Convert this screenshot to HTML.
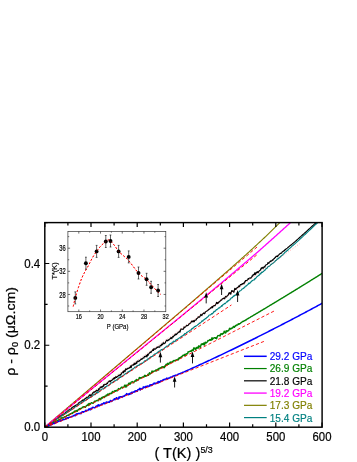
<!DOCTYPE html>
<html><head><meta charset="utf-8"><title>chart</title>
<style>html,body{margin:0;padding:0;background:#fff;}body{width:357px;height:462px;overflow:hidden;position:relative;font-family:"Liberation Sans",sans-serif;}</style></head>
<body>
<svg width="357" height="462" viewBox="0 0 357 462" style="position:absolute;left:0;top:0;will-change:transform;font-family:'Liberation Sans',sans-serif">
<rect width="357" height="462" fill="#fff"/>
<defs><clipPath id="cp"><rect x="44.80" y="222.60" width="277.20" height="204.40"/></clipPath></defs>
<g clip-path="url(#cp)" fill="none" stroke-linejoin="round">
<path d="M44.80 427.00 L45.31 426.64 L45.82 426.29 L46.32 425.93 L46.83 425.58 L47.34 425.22 L47.85 424.79 L48.36 424.58 L48.87 424.24 L49.37 423.71 L49.88 423.35 L50.39 423.01 L50.90 422.61 L51.41 422.29 L51.91 422.45 L52.42 421.85 L52.93 421.36 L53.44 421.09 L53.95 420.50 L54.46 419.90 L54.96 419.61 L55.47 419.73 L55.98 419.24 L56.49 418.76 L57.00 418.71 L57.51 417.86 L58.01 417.77 L58.52 417.79 L59.03 416.73 L59.54 416.89 L60.05 416.63 L60.55 416.02 L61.06 415.50 L61.57 415.03 L62.08 414.74 L62.59 414.87 L63.10 414.31 L63.60 414.20 L64.11 413.70 L64.62 413.69 L65.13 412.78 L65.64 412.19 L66.14 412.94 L66.65 411.98 L67.16 411.15 L67.67 410.94 L68.18 410.48 L68.69 409.96 L69.19 409.64 L69.70 409.19 L70.21 409.00 L70.72 409.21 L71.23 409.15 L71.73 407.82 L72.24 407.34 L72.75 407.53 L73.26 406.84 L73.77 406.30 L74.28 406.58 L74.78 405.95 L75.29 405.35 L75.80 405.38 L76.31 405.06 L76.82 404.76 L77.32 404.56 L77.83 404.23 L78.34 403.25 L78.85 402.71 L79.36 402.66 L79.87 402.15 L80.37 401.96 L80.88 401.68 L81.39 401.04 L81.90 400.64 L82.41 400.73 L82.91 399.85 L83.42 399.79 L83.93 400.57 L84.44 399.15 L84.95 398.76 L85.46 398.27 L85.96 398.42 L86.47 397.41 L86.98 397.43 L87.49 397.12 L88.00 397.27 L88.51 397.03 L89.01 395.63 L89.52 394.90 L90.03 395.66 L90.54 394.80 L91.05 395.93 L91.55 394.86 L92.06 394.51 L92.57 392.83 L93.08 393.05 L93.59 392.65 L94.10 391.62 L94.60 392.13 L95.11 391.97 L95.62 391.21 L96.13 390.45 L96.64 390.20 L97.14 391.27 L97.65 390.51 L98.16 390.57 L98.67 388.78 L99.18 389.22 L99.69 389.08 L100.19 387.13 L100.70 386.97 L101.21 387.49 L101.72 386.52 L102.23 387.26 L102.73 386.22 L103.24 386.49 L103.75 384.62 L104.26 385.14 L104.77 384.32 L105.28 384.51 L105.78 384.22 L106.29 384.32 L106.80 383.44 L107.31 383.73 L107.82 382.49 L108.32 381.80 L108.83 381.60 L109.34 380.72 L109.85 380.93 L110.36 381.94 L110.87 380.51 L111.37 380.77 L111.88 380.29 L112.39 379.76 L112.90 379.19 L113.41 378.26 L113.92 379.27 L114.42 377.67 L114.93 378.46 L115.44 377.08 L115.95 376.71 L116.46 377.47 L116.96 377.01 L117.47 376.42 L117.98 376.29 L118.49 375.71 L119.00 375.12 L119.51 374.96 L120.01 375.80 L120.52 374.25 L121.03 374.46 L121.54 373.69 L122.05 372.47 L122.55 372.27 L123.06 371.58 L123.57 372.82 L124.08 370.49 L124.59 371.28 L125.10 371.45 L125.60 368.76 L126.11 369.61 L126.62 369.49 L127.13 368.58 L127.64 368.99 L128.14 368.09 L128.65 368.34 L129.16 368.21 L129.67 367.43 L130.18 367.74 L130.69 365.88 L131.19 367.70 L131.70 365.60 L132.21 365.16 L132.72 364.89 L133.23 364.57 L133.73 365.12 L134.24 363.14 L134.75 364.44 L135.26 363.52 L135.77 363.87 L136.28 362.07 L136.78 363.32 L137.29 361.41 L137.80 361.00 L138.31 361.20 L138.82 361.72 L139.33 360.55 L139.83 360.60 L140.34 359.82 L140.85 359.45 L141.36 358.81 L141.87 359.36 L142.37 358.60 L142.88 358.13 L143.39 357.73 L143.90 358.18 L144.41 356.42 L144.92 356.73 L145.42 356.78 L145.93 356.10 L146.44 355.39 L146.95 357.00 L147.46 354.25 L147.96 355.50 L148.47 354.05 L148.98 353.73 L149.49 352.84 L150.00 352.60 L150.51 351.84 L151.01 352.62 L151.52 351.35 L152.03 350.88 L152.54 350.55 L153.05 349.32 L153.55 350.39 L154.06 348.47 L154.57 349.18 L155.08 349.19 L155.59 348.93 L156.10 347.95 L156.60 348.12 L157.11 347.38 L157.62 347.34 L158.13 346.69 L158.64 347.22 L159.14 347.29 L159.65 347.26 L160.16 345.46 L160.67 345.32 L161.18 345.76 L161.69 344.04 L162.19 344.41 L162.70 344.71 L163.21 342.71 L163.72 343.22 L164.23 343.70 L164.74 343.16 L165.24 342.97 L165.75 341.56 L166.26 340.80 L166.77 339.98 L167.28 340.80 L167.78 340.87 L168.29 339.83 L168.80 340.26 L169.31 339.15 L169.82 338.90 L170.33 338.75 L170.83 337.62 L171.34 337.86 L171.85 338.69 L172.36 336.86 L172.87 336.53 L173.37 336.94 L173.88 335.93 L174.39 334.92 L174.90 335.39 L175.41 334.58 L175.92 333.90 L176.42 334.59 L176.93 333.89 L177.44 333.27 L177.95 332.76 L178.46 332.55 L178.96 331.82 L179.47 331.16 L179.98 332.20 L180.49 330.54 L181.00 328.94 L181.51 329.18 L182.01 328.95 L182.52 329.21 L183.03 329.37 L183.54 328.87 L184.05 326.77 L184.56 327.69 L185.06 327.20 L185.57 326.86 L186.08 326.16 L186.59 325.31 L187.10 325.70 L187.60 325.62 L188.11 325.27 L188.62 324.79 L189.13 323.91 L189.64 323.80 L190.15 323.12 L190.65 323.04 L191.16 322.01 L191.67 321.11 L192.18 321.61 L192.69 321.80 L193.19 320.57 L193.70 321.63 L194.21 321.68 L194.72 320.42 L195.23 319.98 L195.74 320.06 L196.24 319.88 L196.75 318.50 L197.26 318.37 L197.77 317.90 L198.28 316.74 L198.78 317.18 L199.29 317.21 L199.80 316.73 L200.31 315.75 L200.82 314.37 L201.33 315.29 L201.83 315.61 L202.34 314.25 L202.85 313.76 L203.36 313.47 L203.87 312.86 L204.37 313.67 L204.88 313.28 L205.39 312.03 L205.90 311.63 L206.41 311.26 L206.92 311.04 L207.42 310.81 L207.93 310.59 L208.44 309.47 L208.95 309.25 L209.46 309.26 L209.97 308.69 L210.47 307.89 L210.98 308.07 L211.49 307.41 L212.00 306.48 L212.51 307.76 L213.01 306.37 L213.52 305.69 L214.03 305.87 L214.54 305.46 L215.05 305.70 L215.56 304.48 L216.06 303.75 L216.57 302.34 L217.08 303.72 L217.59 302.56 L218.10 303.31 L218.60 302.04 L219.11 302.07 L219.62 301.30 L220.13 301.17 L220.64 300.13 L221.15 300.33 L221.65 300.10 L222.16 298.91 L222.67 299.03 L223.18 298.42 L223.69 298.38 L224.19 297.83 L224.70 298.87 L225.21 297.11 L225.72 296.38 L226.23 296.82 L226.74 296.87 L227.24 295.68 L227.75 295.22 L228.26 295.10 L228.77 293.37 L229.28 292.70 L229.78 293.72 L230.29 292.69 L230.80 294.23 L231.31 292.03 L231.82 290.50 L232.33 291.47 L232.83 290.92 L233.34 291.30 L233.85 292.34 L234.36 290.15 L234.87 288.27 L235.38 289.34 L235.88 289.40 L236.39 288.25 L236.90 288.16 L237.41 287.29 L237.92 287.42 L238.42 286.97 L238.93 285.84 L239.44 286.74 L239.95 285.47 L240.46 284.61 L240.97 284.54 L241.47 284.71 L241.98 283.88 L242.49 284.12 L243.00 283.43 L243.51 283.20 L244.01 283.86 L244.52 281.92 L245.03 281.94 L245.54 280.50 L246.05 280.66 L246.56 280.44 L247.06 280.40 L247.57 279.73 L248.08 278.70 L248.59 279.08 L249.10 278.23 L249.60 278.03 L250.11 277.98 L250.62 278.26 L251.13 277.79 L251.64 276.97 L252.15 275.81 L252.65 276.10 L253.16 274.49 L253.67 274.80 L254.18 274.31 L254.69 272.87 L255.19 274.73 L255.70 273.05 L256.21 272.44 L256.72 273.14 L257.23 271.56 L257.74 272.50 L258.24 272.58 L258.75 271.33 L259.26 270.99 L259.77 270.52 L260.28 270.24 L260.79 268.99 L261.29 267.88 L261.80 268.84 L262.31 267.41 L262.82 268.07 L263.33 268.24 L263.83 266.97 L264.34 266.61 L264.85 267.19 L265.36 265.50 L265.87 264.94 L266.38 264.80 L266.88 264.49 L267.39 264.31 L267.90 262.62 L268.41 263.24 L268.92 263.34 L269.42 261.99 L269.93 261.75 L270.44 260.96 L270.95 261.53 L271.46 260.72 L271.97 260.67 L272.47 259.75 L272.98 260.11 L273.49 259.06 L274.00 258.52 L274.51 258.57 L275.01 257.40 L275.52 257.42 L276.03 256.36 L276.54 256.39 L277.05 256.14 L277.56 256.68 L278.06 255.30 L278.57 255.29 L279.08 254.49 L279.59 254.02 L280.10 253.64 L280.60 253.50 L281.11 252.98 L281.62 253.13 L282.13 251.99 L282.64 251.61 L283.15 251.22 L283.65 251.13 L284.16 250.41 L284.67 250.60 L285.18 249.61 L285.69 249.37 L286.20 248.84 L286.70 248.49 L287.21 248.11 L287.72 247.68 L288.23 247.29 L288.74 246.72 L289.24 246.47 L289.75 245.90 L290.26 245.60 L290.77 245.13 L291.28 244.88 L291.79 244.30 L292.29 243.92 L292.80 243.51 L293.31 243.10 L293.82 242.68 L294.33 242.25 L294.83 241.83 L295.34 241.39 L295.85 240.94 L296.36 240.49 L296.87 240.03 L297.38 239.58 L297.88 239.12 L298.39 238.67 L298.90 238.21 L299.41 237.75 L299.92 237.30 L300.42 236.84 L300.93 236.38 L301.44 235.93 L301.95 235.47 L302.46 235.01 L302.97 234.55 L303.47 234.10 L303.98 233.64 L304.49 233.18 L305.00 232.72 L305.51 232.26 L306.01 231.80 L306.52 231.34 L307.03 230.88 L307.54 230.42 L308.05 229.95 L308.56 229.49 L309.06 229.03 L309.57 228.57 L310.08 228.11 L310.59 227.64 L311.10 227.18 L311.61 226.72 L312.11 226.25 L312.62 225.79 L313.13 225.32 L313.64 224.86 L314.15 224.39 L314.65 223.93 L315.16 223.46 L315.67 223.00 L316.18 222.53 L316.69 222.06 L317.20 221.60 L317.70 221.13 L318.21 220.66 L318.72 220.19 L319.23 219.73 L319.74 219.26" stroke="#000000" stroke-width="1.15"/>
<path d="M44.80 427.00 L45.31 426.67 L45.82 426.33 L46.32 426.00 L46.83 425.67 L47.34 425.33 L47.85 424.97 L48.36 424.65 L48.87 424.34 L49.37 423.98 L49.88 423.67 L50.39 423.50 L50.90 423.00 L51.41 422.67 L51.91 422.25 L52.42 421.91 L52.93 421.65 L53.44 421.36 L53.95 421.18 L54.46 420.67 L54.96 420.36 L55.47 420.01 L55.98 419.91 L56.49 419.51 L57.00 418.63 L57.51 418.68 L58.01 418.37 L58.52 418.26 L59.03 417.58 L59.54 417.38 L60.05 417.02 L60.55 416.69 L61.06 416.37 L61.57 415.91 L62.08 415.70 L62.59 415.30 L63.10 414.66 L63.60 414.93 L64.11 414.07 L64.62 413.81 L65.13 413.74 L65.64 413.42 L66.14 413.17 L66.65 412.28 L67.16 412.41 L67.67 412.08 L68.18 411.60 L68.69 411.10 L69.19 410.96 L69.70 410.70 L70.21 410.42 L70.72 410.42 L71.23 409.86 L71.73 409.34 L72.24 408.96 L72.75 408.80 L73.26 408.44 L73.77 407.91 L74.28 407.69 L74.78 407.27 L75.29 406.81 L75.80 406.34 L76.31 406.36 L76.82 406.15 L77.32 405.23 L77.83 405.15 L78.34 404.72 L78.85 404.78 L79.36 404.16 L79.87 403.84 L80.37 403.68 L80.88 403.49 L81.39 403.02 L81.90 402.11 L82.41 402.13 L82.91 401.83 L83.42 401.38 L83.93 401.13 L84.44 400.89 L84.95 400.23 L85.46 400.31 L85.96 400.07 L86.47 399.43 L86.98 399.02 L87.49 399.22 L88.00 398.43 L88.51 398.44 L89.01 398.14 L89.52 397.44 L90.03 397.17 L90.54 396.60 L91.05 397.10 L91.55 396.49 L92.06 396.09 L92.57 395.92 L93.08 394.91 L93.59 394.93 L94.10 394.59 L94.60 394.04 L95.11 394.55 L95.62 393.81 L96.13 393.37 L96.64 392.28 L97.14 392.92 L97.65 393.01 L98.16 391.98 L98.67 392.24 L99.18 391.24 L99.69 391.16 L100.19 390.25 L100.70 389.85 L101.21 389.78 L101.72 389.00 L102.23 389.02 L102.73 388.81 L103.24 388.93 L103.75 388.69 L104.26 387.67 L104.77 387.19 L105.28 387.72 L105.78 386.51 L106.29 386.68 L106.80 385.92 L107.31 385.71 L107.82 385.83 L108.32 385.60 L108.83 385.07 L109.34 384.45 L109.85 384.38 L110.36 383.61 L110.87 383.46 L111.37 382.74 L111.88 382.71 L112.39 382.54 L112.90 382.42 L113.41 381.68 L113.92 381.35 L114.42 380.89 L114.93 380.98 L115.44 380.64 L115.95 380.33 L116.46 379.79 L116.96 380.25 L117.47 379.06 L117.98 378.86 L118.49 378.19 L119.00 377.79 L119.51 377.19 L120.01 377.33 L120.52 377.52 L121.03 376.52 L121.54 376.12 L122.05 376.59 L122.55 376.02 L123.06 375.37 L123.57 375.23 L124.08 374.85 L124.59 374.24 L125.10 374.26 L125.60 373.44 L126.11 373.17 L126.62 373.34 L127.13 373.27 L127.64 372.32 L128.14 371.64 L128.65 372.23 L129.16 371.17 L129.67 371.47 L130.18 370.49 L130.69 370.51 L131.19 369.82 L131.70 370.30 L132.21 369.28 L132.72 368.83 L133.23 368.82 L133.73 368.30 L134.24 368.08 L134.75 367.14 L135.26 367.10 L135.77 366.93 L136.28 366.94 L136.78 365.93 L137.29 365.86 L137.80 365.65 L138.31 365.17 L138.82 365.45 L139.33 365.06 L139.83 364.09 L140.34 363.88 L140.85 363.89 L141.36 363.69 L141.87 363.05 L142.37 363.38 L142.88 362.85 L143.39 362.35 L143.90 361.98 L144.41 361.05 L144.92 360.84 L145.42 361.11 L145.93 360.54 L146.44 359.95 L146.95 359.98 L147.46 360.07 L147.96 358.67 L148.47 358.97 L148.98 358.48 L149.49 357.96 L150.00 357.21 L150.51 357.37 L151.01 356.66 L151.52 356.81 L152.03 356.47 L152.54 356.33 L153.05 355.43 L153.55 354.97 L154.06 354.81 L154.57 354.02 L155.08 354.22 L155.59 353.69 L156.10 353.55 L156.60 353.14 L157.11 352.85 L157.62 352.19 L158.13 352.37 L158.64 351.40 L159.14 351.50 L159.65 350.85 L160.16 351.25 L160.67 350.57 L161.18 349.53 L161.69 349.64 L162.19 350.03 L162.70 349.22 L163.21 348.98 L163.72 348.77 L164.23 348.34 L164.74 347.71 L165.24 347.46 L165.75 347.07 L166.26 346.56 L166.77 346.15 L167.28 346.01 L167.78 346.07 L168.29 345.60 L168.80 344.73 L169.31 344.82 L169.82 343.77 L170.33 343.96 L170.83 343.41 L171.34 343.41 L171.85 342.80 L172.36 342.08 L172.87 342.14 L173.37 342.13 L173.88 340.94 L174.39 341.57 L174.90 341.50 L175.41 341.09 L175.92 339.76 L176.42 340.03 L176.93 339.45 L177.44 339.38 L177.95 338.74 L178.46 338.53 L178.96 338.15 L179.47 337.86 L179.98 337.75 L180.49 337.03 L181.00 336.72 L181.51 336.94 L182.01 335.91 L182.52 335.73 L183.03 335.71 L183.54 334.86 L184.05 335.26 L184.56 333.67 L185.06 334.07 L185.57 333.65 L186.08 333.61 L186.59 332.40 L187.10 332.27 L187.60 332.28 L188.11 331.44 L188.62 331.22 L189.13 331.15 L189.64 330.77 L190.15 330.19 L190.65 329.99 L191.16 329.98 L191.67 328.92 L192.18 328.36 L192.69 328.75 L193.19 327.73 L193.70 327.64 L194.21 326.93 L194.72 326.61 L195.23 326.38 L195.74 326.35 L196.24 325.69 L196.75 325.47 L197.26 325.20 L197.77 324.64 L198.28 324.37 L198.78 323.82 L199.29 323.21 L199.80 323.49 L200.31 322.75 L200.82 322.53 L201.33 321.84 L201.83 321.09 L202.34 320.73 L202.85 321.21 L203.36 320.06 L203.87 319.73 L204.37 319.71 L204.88 319.09 L205.39 318.49 L205.90 318.67 L206.41 317.86 L206.92 317.40 L207.42 317.27 L207.93 316.66 L208.44 316.20 L208.95 315.23 L209.46 315.01 L209.97 314.96 L210.47 314.88 L210.98 314.50 L211.49 313.68 L212.00 314.07 L212.51 313.28 L213.01 313.17 L213.52 312.41 L214.03 311.38 L214.54 311.72 L215.05 311.13 L215.56 310.89 L216.06 310.01 L216.57 309.48 L217.08 309.60 L217.59 308.99 L218.10 308.76 L218.60 308.00 L219.11 307.74 L219.62 307.89 L220.13 306.98 L220.64 306.92 L221.15 306.50 L221.65 305.54 L222.16 306.02 L222.67 304.82 L223.18 304.70 L223.69 304.45 L224.19 303.76 L224.70 303.33 L225.21 303.65 L225.72 303.00 L226.23 302.28 L226.74 301.76 L227.24 301.99 L227.75 300.78 L228.26 301.04 L228.77 300.29 L229.28 300.14 L229.78 299.98 L230.29 298.90 L230.80 298.85 L231.31 297.73 L231.82 297.80 L232.33 297.65 L232.83 296.94 L233.34 296.06 L233.85 296.39 L234.36 295.29 L234.87 295.38 L235.38 295.19 L235.88 294.62 L236.39 294.01 L236.90 293.43 L237.41 292.72 L237.92 292.49 L238.42 292.20 L238.93 291.86 L239.44 291.44 L239.95 290.71 L240.46 290.73 L240.97 290.37 L241.47 289.81 L241.98 289.01 L242.49 289.04 L243.00 288.57 L243.51 288.36 L244.01 287.71 L244.52 287.78 L245.03 286.67 L245.54 286.17 L246.05 285.89 L246.56 285.85 L247.06 285.16 L247.57 284.87 L248.08 284.57 L248.59 283.33 L249.10 283.05 L249.60 283.66 L250.11 282.93 L250.62 282.20 L251.13 281.80 L251.64 281.15 L252.15 280.58 L252.65 280.68 L253.16 280.02 L253.67 279.97 L254.18 279.91 L254.69 278.71 L255.19 279.01 L255.70 278.14 L256.21 277.84 L256.72 276.91 L257.23 276.48 L257.74 276.21 L258.24 275.62 L258.75 275.38 L259.26 275.10 L259.77 274.18 L260.28 273.27 L260.79 273.89 L261.29 272.79 L261.80 272.16 L262.31 272.47 L262.82 271.74 L263.33 271.67 L263.83 271.10 L264.34 270.46 L264.85 270.50 L265.36 269.17 L265.87 268.93 L266.38 268.59 L266.88 268.55 L267.39 267.59 L267.90 266.97 L268.41 266.43 L268.92 266.23 L269.42 266.28 L269.93 265.72 L270.44 265.13 L270.95 264.35 L271.46 264.39 L271.97 263.79 L272.47 263.56 L272.98 263.33 L273.49 262.67 L274.00 262.46 L274.51 261.77 L275.01 261.62 L275.52 260.58 L276.03 260.51 L276.54 260.08 L277.05 259.11 L277.56 259.29 L278.06 258.61 L278.57 258.47 L279.08 257.65 L279.59 257.68 L280.10 257.22 L280.60 256.38 L281.11 256.25 L281.62 255.64 L282.13 255.28 L282.64 254.96 L283.15 254.18 L283.65 253.83 L284.16 253.36 L284.67 252.45 L285.18 252.30 L285.69 251.80 L286.20 251.46 L286.70 251.01 L287.21 250.39 L287.72 250.40 L288.23 249.46 L288.74 249.11 L289.24 248.63 L289.75 248.32 L290.26 247.89 L290.77 247.43 L291.28 246.97 L291.79 246.44 L292.29 245.83 L292.80 245.57 L293.31 245.20 L293.82 244.64 L294.33 244.28 L294.83 243.81 L295.34 243.39 L295.85 242.82 L296.36 242.40 L296.87 241.90 L297.38 241.46 L297.88 241.10 L298.39 240.50 L298.90 240.12 L299.41 239.71 L299.92 239.14 L300.42 238.73 L300.93 238.20 L301.44 237.78 L301.95 237.28 L302.46 236.81 L302.97 236.36 L303.47 235.88 L303.98 235.40 L304.49 234.93 L305.00 234.46 L305.51 233.99 L306.01 233.51 L306.52 233.04 L307.03 232.56 L307.54 232.09 L308.05 231.62 L308.56 231.14 L309.06 230.66 L309.57 230.19 L310.08 229.71 L310.59 229.24 L311.10 228.76 L311.61 228.28 L312.11 227.80 L312.62 227.33 L313.13 226.85 L313.64 226.37 L314.15 225.89 L314.65 225.41 L315.16 224.93 L315.67 224.45 L316.18 223.97 L316.69 223.49 L317.20 223.00 L317.70 222.52 L318.21 222.04 L318.72 221.56 L319.23 221.07 L319.74 220.59 L320.24 220.11 L320.75 219.62 L321.26 219.14" stroke="#008080" stroke-width="1.15"/>
<path d="M44.80 427.00 L45.31 426.57 L45.82 426.14 L46.32 425.71 L46.83 425.28 L47.34 424.84 L47.85 424.40 L48.36 423.98 L48.87 423.51 L49.37 423.13 L49.88 422.69 L50.39 422.25 L50.90 421.82 L51.41 421.39 L51.91 420.96 L52.42 420.57 L52.93 420.10 L53.44 419.68 L53.95 419.26 L54.46 418.84 L54.96 418.40 L55.47 417.96 L55.98 417.52 L56.49 417.04 L57.00 416.61 L57.51 416.22 L58.01 415.74 L58.52 415.36 L59.03 414.91 L59.54 414.46 L60.05 414.04 L60.55 413.60 L61.06 413.23 L61.57 412.80 L62.08 412.28 L62.59 411.90 L63.10 411.52 L63.60 411.02 L64.11 410.57 L64.62 410.15 L65.13 409.74 L65.64 409.33 L66.14 408.91 L66.65 408.35 L67.16 407.97 L67.67 407.58 L68.18 407.19 L68.69 406.70 L69.19 406.28 L69.70 405.85 L70.21 405.44 L70.72 404.96 L71.23 404.53 L71.73 404.20 L72.24 403.75 L72.75 403.33 L73.26 402.88 L73.77 402.46 L74.28 401.99 L74.78 401.55 L75.29 401.16 L75.80 400.70 L76.31 400.28 L76.82 399.89 L77.32 399.42 L77.83 398.96 L78.34 398.56 L78.85 398.09 L79.36 397.66 L79.87 397.28 L80.37 396.81 L80.88 396.36 L81.39 395.92 L81.90 395.52 L82.41 395.08 L82.91 394.67 L83.42 394.21 L83.93 393.77 L84.44 393.35 L84.95 392.93 L85.46 392.50 L85.96 392.08 L86.47 391.64 L86.98 391.21 L87.49 390.76 L88.00 390.32 L88.51 389.91 L89.01 389.47 L89.52 389.04 L90.03 388.61 L90.54 388.18 L91.05 387.74 L91.55 387.31 L92.06 386.88 L92.57 386.45 L93.08 386.02 L93.59 385.59 L94.10 385.15 L94.60 384.72 L95.11 384.29 L95.62 383.86 L96.13 383.43 L96.64 383.00 L97.14 382.56 L97.65 382.13 L98.16 381.70 L98.67 381.27 L99.18 380.84 L99.69 380.41 L100.19 379.97 L100.70 379.54 L101.21 379.11 L101.72 378.68 L102.23 378.25 L102.73 377.82 L103.24 377.39 L103.75 376.95 L104.26 376.52 L104.77 376.09 L105.28 375.66 L105.78 375.23 L106.29 374.80 L106.80 374.36 L107.31 373.93 L107.82 373.50 L108.32 373.07 L108.83 372.64 L109.34 372.21 L109.85 371.77 L110.36 371.34 L110.87 370.91 L111.37 370.48 L111.88 370.05 L112.39 369.62 L112.90 369.18 L113.41 368.75 L113.92 368.32 L114.42 367.89 L114.93 367.46 L115.44 367.03 L115.95 366.59 L116.46 366.16 L116.96 365.73 L117.47 365.30 L117.98 364.87 L118.49 364.44 L119.00 364.00 L119.51 363.57 L120.01 363.14 L120.52 362.71 L121.03 362.28 L121.54 361.84 L122.05 361.41 L122.55 360.98 L123.06 360.55 L123.57 360.12 L124.08 359.69 L124.59 359.25 L125.10 358.82 L125.60 358.39 L126.11 357.96 L126.62 357.53 L127.13 357.10 L127.64 356.66 L128.14 356.23 L128.65 355.80 L129.16 355.37 L129.67 354.94 L130.18 354.50 L130.69 354.07 L131.19 353.64 L131.70 353.21 L132.21 352.78 L132.72 352.35 L133.23 351.91 L133.73 351.48 L134.24 351.05 L134.75 350.62 L135.26 350.19 L135.77 349.75 L136.28 349.32 L136.78 348.89 L137.29 348.46 L137.80 348.03 L138.31 347.60 L138.82 347.16 L139.33 346.73 L139.83 346.30 L140.34 345.87 L140.85 345.44 L141.36 345.00 L141.87 344.57 L142.37 344.14 L142.88 343.71 L143.39 343.28 L143.90 342.84 L144.41 342.41 L144.92 341.98 L145.42 341.55 L145.93 341.12 L146.44 340.69 L146.95 340.25 L147.46 339.82 L147.96 339.39 L148.47 338.96 L148.98 338.53 L149.49 338.09 L150.00 337.66 L150.51 337.23 L151.01 336.80 L151.52 336.37 L152.03 335.93 L152.54 335.50 L153.05 335.07 L153.55 334.64 L154.06 334.21 L154.57 333.77 L155.08 333.34 L155.59 332.91 L156.10 332.48 L156.60 332.05 L157.11 331.61 L157.62 331.18 L158.13 330.75 L158.64 330.32 L159.14 329.89 L159.65 329.45 L160.16 329.02 L160.67 328.59 L161.18 328.16 L161.69 327.73 L162.19 327.29 L162.70 326.86 L163.21 326.43 L163.72 326.00 L164.23 325.57 L164.74 325.13 L165.24 324.70 L165.75 324.27 L166.26 323.84 L166.77 323.41 L167.28 322.97 L167.78 322.54 L168.29 322.11 L168.80 321.68 L169.31 321.25 L169.82 320.81 L170.33 320.38 L170.83 319.95 L171.34 319.52 L171.85 319.09 L172.36 318.65 L172.87 318.22 L173.37 317.79 L173.88 317.36 L174.39 316.93 L174.90 316.49 L175.41 316.06 L175.92 315.63 L176.42 315.20 L176.93 314.77 L177.44 314.33 L177.95 313.90 L178.46 313.47 L178.96 313.04 L179.47 312.60 L179.98 312.17 L180.49 311.74 L181.00 311.31 L181.51 310.88 L182.01 310.44 L182.52 310.01 L183.03 309.58 L183.54 309.15 L184.05 308.71 L184.56 308.27 L185.06 307.83 L185.57 307.40 L186.08 306.96 L186.59 306.52 L187.10 306.08 L187.60 305.65 L188.11 305.21 L188.62 304.77 L189.13 304.33 L189.64 303.90 L190.15 303.46 L190.65 303.02 L191.16 302.58 L191.67 302.15 L192.18 301.71 L192.69 301.27 L193.19 300.83 L193.70 300.39 L194.21 299.96 L194.72 299.52 L195.23 299.08 L195.74 298.64 L196.24 298.20 L196.75 297.77 L197.26 297.33 L197.77 296.89 L198.28 296.45 L198.78 296.01 L199.29 295.57 L199.80 295.13 L200.31 294.70 L200.82 294.26 L201.33 293.82 L201.83 293.38 L202.34 292.94 L202.85 292.50 L203.36 292.06 L203.87 291.63 L204.37 291.19 L204.88 290.75 L205.39 290.31 L205.90 289.87 L206.41 289.43 L206.92 288.99 L207.42 288.55 L207.93 288.11 L208.44 287.67 L208.95 287.23 L209.46 286.79 L209.97 286.35 L210.47 285.91 L210.98 285.47 L211.49 285.02 L212.00 284.58 L212.51 284.14 L213.01 283.70 L213.52 283.26 L214.03 282.82 L214.54 282.38 L215.05 281.94 L215.56 281.50 L216.06 281.06 L216.57 280.61 L217.08 280.17 L217.59 279.73 L218.10 279.29 L218.60 278.85 L219.11 278.41 L219.62 277.97 L220.13 277.52 L220.64 277.08 L221.15 276.64 L221.65 276.20 L222.16 275.76 L222.67 275.32 L223.18 274.87 L223.69 274.43 L224.19 273.99 L224.70 273.55 L225.21 273.11 L225.72 272.66 L226.23 272.22 L226.74 271.78 L227.24 271.34 L227.75 270.89 L228.26 270.45 L228.77 270.01 L229.28 269.57 L229.78 269.12 L230.29 268.67 L230.80 268.22 L231.31 267.76 L231.82 267.31 L232.33 266.86 L232.83 266.41 L233.34 265.95 L233.85 265.50 L234.36 265.05 L234.87 264.59 L235.38 264.14 L235.88 263.69 L236.39 263.23 L236.90 262.78 L237.41 262.33 L237.92 261.87 L238.42 261.42 L238.93 260.97 L239.44 260.51 L239.95 260.06 L240.46 259.60 L240.97 259.15 L241.47 258.69 L241.98 258.24 L242.49 257.79 L243.00 257.33 L243.51 256.88 L244.01 256.42 L244.52 255.97 L245.03 255.51 L245.54 255.06 L246.05 254.60 L246.56 254.14 L247.06 253.69 L247.57 253.23 L248.08 252.78 L248.59 252.32 L249.10 251.87 L249.60 251.41 L250.11 250.95 L250.62 250.48 L251.13 250.01 L251.64 249.54 L252.15 249.07 L252.65 248.60 L253.16 248.13 L253.67 247.66 L254.18 247.19 L254.69 246.72 L255.19 246.25 L255.70 245.78 L256.21 245.31 L256.72 244.84 L257.23 244.37 L257.74 243.89 L258.24 243.42 L258.75 242.95 L259.26 242.48 L259.77 242.01 L260.28 241.53 L260.79 241.06 L261.29 240.59 L261.80 240.12 L262.31 239.64 L262.82 239.17 L263.33 238.70 L263.83 238.22 L264.34 237.75 L264.85 237.28 L265.36 236.80 L265.87 236.33 L266.38 235.85 L266.88 235.37 L267.39 234.87 L267.90 234.38 L268.41 233.88 L268.92 233.39 L269.42 232.89 L269.93 232.39 L270.44 231.90 L270.95 231.40 L271.46 230.90 L271.97 230.41 L272.47 229.91 L272.98 229.41 L273.49 228.92 L274.00 228.42 L274.51 227.92 L275.01 227.42 L275.52 226.92 L276.03 226.42 L276.54 225.92 L277.05 225.42 L277.56 224.92 L278.06 224.42 L278.57 223.92 L279.08 223.42 L279.59 222.92 L280.10 222.42 L280.60 221.92 L281.11 221.42 L281.62 220.92 L282.13 220.41 L282.64 219.91 L283.15 219.41" stroke="#808000" stroke-width="1.15"/>
<path d="M44.80 427.00 L45.31 426.59 L45.82 426.17 L46.32 425.76 L46.83 425.35 L47.34 424.94 L47.85 424.52 L48.36 424.11 L48.87 423.72 L49.37 423.27 L49.88 422.87 L50.39 422.46 L50.90 422.06 L51.41 421.70 L51.91 421.23 L52.42 420.78 L52.93 420.40 L53.44 419.96 L53.95 419.61 L54.46 419.09 L54.96 418.76 L55.47 418.32 L55.98 417.89 L56.49 417.51 L57.00 417.13 L57.51 416.70 L58.01 416.28 L58.52 415.81 L59.03 415.50 L59.54 415.07 L60.05 414.61 L60.55 414.23 L61.06 413.78 L61.57 413.40 L62.08 413.03 L62.59 412.56 L63.10 412.18 L63.60 411.77 L64.11 411.29 L64.62 410.83 L65.13 410.50 L65.64 410.07 L66.14 409.62 L66.65 409.31 L67.16 408.83 L67.67 408.42 L68.18 408.03 L68.69 407.53 L69.19 407.21 L69.70 406.84 L70.21 406.39 L70.72 405.93 L71.23 405.57 L71.73 405.07 L72.24 404.72 L72.75 404.29 L73.26 403.88 L73.77 403.47 L74.28 403.07 L74.78 402.66 L75.29 402.23 L75.80 401.77 L76.31 401.39 L76.82 400.97 L77.32 400.57 L77.83 400.19 L78.34 399.72 L78.85 399.32 L79.36 398.94 L79.87 398.51 L80.37 398.12 L80.88 397.67 L81.39 397.25 L81.90 396.82 L82.41 396.46 L82.91 396.04 L83.42 395.64 L83.93 395.22 L84.44 394.79 L84.95 394.40 L85.46 393.98 L85.96 393.57 L86.47 393.13 L86.98 392.73 L87.49 392.33 L88.00 391.91 L88.51 391.49 L89.01 391.08 L89.52 390.67 L90.03 390.26 L90.54 389.85 L91.05 389.43 L91.55 389.02 L92.06 388.61 L92.57 388.20 L93.08 387.78 L93.59 387.37 L94.10 386.96 L94.60 386.54 L95.11 386.13 L95.62 385.72 L96.13 385.31 L96.64 384.89 L97.14 384.48 L97.65 384.07 L98.16 383.66 L98.67 383.24 L99.18 382.83 L99.69 382.42 L100.19 382.00 L100.70 381.59 L101.21 381.18 L101.72 380.77 L102.23 380.35 L102.73 379.94 L103.24 379.53 L103.75 379.11 L104.26 378.70 L104.77 378.29 L105.28 377.88 L105.78 377.46 L106.29 377.05 L106.80 376.64 L107.31 376.22 L107.82 375.81 L108.32 375.40 L108.83 374.99 L109.34 374.57 L109.85 374.16 L110.36 373.75 L110.87 373.34 L111.37 372.92 L111.88 372.51 L112.39 372.10 L112.90 371.68 L113.41 371.27 L113.92 370.86 L114.42 370.45 L114.93 370.03 L115.44 369.62 L115.95 369.21 L116.46 368.79 L116.96 368.38 L117.47 367.97 L117.98 367.56 L118.49 367.14 L119.00 366.73 L119.51 366.32 L120.01 365.90 L120.52 365.49 L121.03 365.08 L121.54 364.67 L122.05 364.25 L122.55 363.84 L123.06 363.43 L123.57 363.02 L124.08 362.60 L124.59 362.19 L125.10 361.78 L125.60 361.36 L126.11 360.95 L126.62 360.54 L127.13 360.13 L127.64 359.71 L128.14 359.30 L128.65 358.89 L129.16 358.47 L129.67 358.06 L130.18 357.65 L130.69 357.24 L131.19 356.82 L131.70 356.41 L132.21 356.00 L132.72 355.58 L133.23 355.17 L133.73 354.76 L134.24 354.35 L134.75 353.93 L135.26 353.52 L135.77 353.11 L136.28 352.69 L136.78 352.28 L137.29 351.87 L137.80 351.46 L138.31 351.04 L138.82 350.63 L139.33 350.22 L139.83 349.81 L140.34 349.39 L140.85 348.98 L141.36 348.57 L141.87 348.15 L142.37 347.74 L142.88 347.33 L143.39 346.92 L143.90 346.50 L144.41 346.09 L144.92 345.68 L145.42 345.26 L145.93 344.85 L146.44 344.44 L146.95 344.03 L147.46 343.61 L147.96 343.20 L148.47 342.79 L148.98 342.37 L149.49 341.96 L150.00 341.55 L150.51 341.14 L151.01 340.72 L151.52 340.31 L152.03 339.90 L152.54 339.49 L153.05 339.07 L153.55 338.66 L154.06 338.25 L154.57 337.83 L155.08 337.42 L155.59 337.01 L156.10 336.60 L156.60 336.18 L157.11 335.77 L157.62 335.36 L158.13 334.94 L158.64 334.53 L159.14 334.12 L159.65 333.71 L160.16 333.29 L160.67 332.88 L161.18 332.47 L161.69 332.05 L162.19 331.64 L162.70 331.23 L163.21 330.82 L163.72 330.40 L164.23 329.99 L164.74 329.58 L165.24 329.16 L165.75 328.75 L166.26 328.34 L166.77 327.93 L167.28 327.51 L167.78 327.10 L168.29 326.69 L168.80 326.28 L169.31 325.86 L169.82 325.45 L170.33 325.04 L170.83 324.62 L171.34 324.21 L171.85 323.80 L172.36 323.39 L172.87 322.97 L173.37 322.56 L173.88 322.15 L174.39 321.73 L174.90 321.32 L175.41 320.91 L175.92 320.49 L176.42 320.07 L176.93 319.66 L177.44 319.24 L177.95 318.82 L178.46 318.40 L178.96 317.98 L179.47 317.57 L179.98 317.15 L180.49 316.73 L181.00 316.31 L181.51 315.89 L182.01 315.47 L182.52 315.06 L183.03 314.64 L183.54 314.22 L184.05 313.80 L184.56 313.38 L185.06 312.96 L185.57 312.54 L186.08 312.13 L186.59 311.71 L187.10 311.29 L187.60 310.87 L188.11 310.45 L188.62 310.03 L189.13 309.61 L189.64 309.19 L190.15 308.77 L190.65 308.36 L191.16 307.94 L191.67 307.52 L192.18 307.10 L192.69 306.68 L193.19 306.26 L193.70 305.84 L194.21 305.42 L194.72 305.00 L195.23 304.58 L195.74 304.16 L196.24 303.74 L196.75 303.32 L197.26 302.90 L197.77 302.48 L198.28 302.07 L198.78 301.65 L199.29 301.23 L199.80 300.81 L200.31 300.39 L200.82 299.97 L201.33 299.55 L201.83 299.13 L202.34 298.71 L202.85 298.29 L203.36 297.87 L203.87 297.45 L204.37 297.03 L204.88 296.61 L205.39 296.19 L205.90 295.77 L206.41 295.35 L206.92 294.93 L207.42 294.50 L207.93 294.08 L208.44 293.66 L208.95 293.24 L209.46 292.82 L209.97 292.40 L210.47 291.98 L210.98 291.56 L211.49 291.14 L212.00 290.72 L212.51 290.30 L213.01 289.88 L213.52 289.46 L214.03 289.04 L214.54 288.62 L215.05 288.19 L215.56 287.77 L216.06 287.35 L216.57 286.93 L217.08 286.51 L217.59 286.09 L218.10 285.67 L218.60 285.25 L219.11 284.83 L219.62 284.40 L220.13 283.98 L220.64 283.56 L221.15 283.14 L221.65 282.72 L222.16 282.29 L222.67 281.86 L223.18 281.43 L223.69 281.00 L224.19 280.57 L224.70 280.14 L225.21 279.71 L225.72 279.28 L226.23 278.85 L226.74 278.42 L227.24 277.99 L227.75 277.56 L228.26 277.12 L228.77 276.69 L229.28 276.26 L229.78 275.83 L230.29 275.40 L230.80 274.97 L231.31 274.54 L231.82 274.11 L232.33 273.67 L232.83 273.24 L233.34 272.81 L233.85 272.38 L234.36 271.95 L234.87 271.51 L235.38 271.08 L235.88 270.65 L236.39 270.22 L236.90 269.79 L237.41 269.35 L237.92 268.92 L238.42 268.49 L238.93 268.05 L239.44 267.62 L239.95 267.19 L240.46 266.76 L240.97 266.32 L241.47 265.89 L241.98 265.46 L242.49 265.02 L243.00 264.59 L243.51 264.16 L244.01 263.72 L244.52 263.29 L245.03 262.85 L245.54 262.42 L246.05 261.99 L246.56 261.55 L247.06 261.12 L247.57 260.68 L248.08 260.25 L248.59 259.82 L249.10 259.38 L249.60 258.95 L250.11 258.51 L250.62 258.08 L251.13 257.64 L251.64 257.21 L252.15 256.77 L252.65 256.34 L253.16 255.90 L253.67 255.47 L254.18 255.03 L254.69 254.59 L255.19 254.16 L255.70 253.72 L256.21 253.29 L256.72 252.85 L257.23 252.42 L257.74 251.98 L258.24 251.54 L258.75 251.09 L259.26 250.64 L259.77 250.19 L260.28 249.74 L260.79 249.29 L261.29 248.83 L261.80 248.38 L262.31 247.93 L262.82 247.48 L263.33 247.03 L263.83 246.57 L264.34 246.12 L264.85 245.67 L265.36 245.21 L265.87 244.76 L266.38 244.31 L266.88 243.85 L267.39 243.40 L267.90 242.94 L268.41 242.49 L268.92 242.04 L269.42 241.58 L269.93 241.13 L270.44 240.67 L270.95 240.22 L271.46 239.76 L271.97 239.31 L272.47 238.85 L272.98 238.40 L273.49 237.94 L274.00 237.48 L274.51 237.03 L275.01 236.57 L275.52 236.12 L276.03 235.66 L276.54 235.20 L277.05 234.74 L277.56 234.29 L278.06 233.83 L278.57 233.37 L279.08 232.92 L279.59 232.46 L280.10 232.00 L280.60 231.54 L281.11 231.08 L281.62 230.63 L282.13 230.17 L282.64 229.71 L283.15 229.25 L283.65 228.79 L284.16 228.33 L284.67 227.87 L285.18 227.41 L285.69 226.95 L286.20 226.49 L286.70 226.03 L287.21 225.57 L287.72 225.11 L288.23 224.65 L288.74 224.19 L289.24 223.73 L289.75 223.27 L290.26 222.81 L290.77 222.35 L291.28 221.89 L291.79 221.43 L292.29 220.96 L292.80 220.50 L293.31 220.04 L293.82 219.58" stroke="#ff00ff" stroke-width="1.3"/>
<path d="M44.80 427.00 L45.31 426.74 L45.82 426.48 L46.32 426.22 L46.83 425.97 L47.34 425.71 L47.85 425.34 L48.36 424.94 L48.87 424.73 L49.37 424.78 L49.88 424.57 L50.39 423.95 L50.90 423.72 L51.41 423.75 L51.91 423.24 L52.42 423.30 L52.93 423.02 L53.44 422.72 L53.95 421.94 L54.46 422.42 L54.96 421.77 L55.47 421.39 L55.98 421.08 L56.49 420.95 L57.00 420.91 L57.51 420.77 L58.01 420.46 L58.52 419.93 L59.03 419.79 L59.54 419.89 L60.05 419.15 L60.55 419.23 L61.06 418.58 L61.57 418.00 L62.08 417.45 L62.59 418.00 L63.10 417.95 L63.60 418.00 L64.11 417.04 L64.62 416.95 L65.13 416.72 L65.64 416.93 L66.14 416.41 L66.65 415.60 L67.16 415.46 L67.67 415.41 L68.18 415.19 L68.69 415.48 L69.19 414.16 L69.70 414.33 L70.21 414.14 L70.72 413.61 L71.23 413.42 L71.73 413.12 L72.24 413.62 L72.75 412.51 L73.26 412.66 L73.77 412.39 L74.28 411.26 L74.78 411.29 L75.29 410.89 L75.80 411.61 L76.31 410.47 L76.82 411.08 L77.32 411.29 L77.83 409.92 L78.34 409.72 L78.85 409.48 L79.36 408.68 L79.87 409.07 L80.37 408.49 L80.88 408.49 L81.39 408.37 L81.90 408.00 L82.41 407.25 L82.91 407.40 L83.42 406.73 L83.93 406.86 L84.44 406.79 L84.95 406.74 L85.46 407.21 L85.96 406.45 L86.47 405.57 L86.98 405.22 L87.49 405.48 L88.00 404.19 L88.51 405.48 L89.01 403.45 L89.52 404.75 L90.03 403.56 L90.54 404.02 L91.05 402.99 L91.55 402.62 L92.06 402.88 L92.57 403.21 L93.08 403.25 L93.59 402.70 L94.10 401.89 L94.60 401.19 L95.11 401.51 L95.62 401.48 L96.13 400.67 L96.64 400.69 L97.14 400.39 L97.65 400.24 L98.16 400.74 L98.67 400.11 L99.18 398.44 L99.69 399.25 L100.19 398.39 L100.70 399.75 L101.21 398.55 L101.72 397.46 L102.23 398.14 L102.73 397.33 L103.24 396.74 L103.75 397.00 L104.26 397.59 L104.77 396.26 L105.28 396.14 L105.78 396.62 L106.29 394.93 L106.80 395.49 L107.31 395.56 L107.82 393.99 L108.32 394.58 L108.83 395.06 L109.34 393.54 L109.85 393.33 L110.36 393.40 L110.87 393.82 L111.37 392.91 L111.88 393.24 L112.39 391.53 L112.90 391.89 L113.41 392.16 L113.92 391.92 L114.42 390.83 L114.93 390.73 L115.44 391.16 L115.95 390.68 L116.46 390.33 L116.96 390.92 L117.47 390.51 L117.98 389.70 L118.49 388.52 L119.00 388.88 L119.51 388.92 L120.01 388.87 L120.52 388.54 L121.03 387.51 L121.54 387.61 L122.05 386.99 L122.55 387.96 L123.06 387.51 L123.57 387.22 L124.08 386.86 L124.59 385.14 L125.10 385.15 L125.60 386.94 L126.11 385.11 L126.62 386.80 L127.13 385.24 L127.64 385.02 L128.14 385.14 L128.65 383.30 L129.16 384.44 L129.67 383.09 L130.18 384.07 L130.69 383.07 L131.19 382.04 L131.70 381.80 L132.21 381.49 L132.72 381.98 L133.23 382.37 L133.73 382.75 L134.24 381.46 L134.75 380.92 L135.26 381.22 L135.77 380.98 L136.28 379.36 L136.78 380.74 L137.29 379.93 L137.80 380.11 L138.31 379.83 L138.82 378.66 L139.33 377.40 L139.83 378.61 L140.34 377.71 L140.85 378.01 L141.36 377.59 L141.87 377.43 L142.37 377.14 L142.88 376.93 L143.39 376.81 L143.90 377.07 L144.41 375.64 L144.92 375.27 L145.42 376.38 L145.93 375.67 L146.44 375.93 L146.95 375.74 L147.46 375.48 L147.96 374.21 L148.47 375.39 L148.98 374.08 L149.49 372.64 L150.00 374.11 L150.51 373.64 L151.01 373.25 L151.52 372.40 L152.03 370.89 L152.54 372.26 L153.05 371.52 L153.55 371.43 L154.06 371.06 L154.57 370.89 L155.08 371.13 L155.59 370.39 L156.10 369.84 L156.60 370.85 L157.11 369.90 L157.62 369.68 L158.13 368.86 L158.64 370.09 L159.14 368.18 L159.65 368.34 L160.16 368.02 L160.67 368.20 L161.18 367.51 L161.69 366.90 L162.19 367.51 L162.70 366.66 L163.21 367.55 L163.72 366.81 L164.23 367.73 L164.74 366.01 L165.24 366.60 L165.75 364.92 L166.26 364.15 L166.77 365.07 L167.28 364.36 L167.78 363.16 L168.29 364.37 L168.80 364.11 L169.31 362.94 L169.82 362.49 L170.33 362.01 L170.83 362.73 L171.34 362.15 L171.85 362.08 L172.36 361.46 L172.87 362.03 L173.37 360.85 L173.88 360.46 L174.39 360.71 L174.90 360.71 L175.41 360.23 L175.92 360.19 L176.42 359.92 L176.93 359.69 L177.44 359.94 L177.95 359.09 L178.46 359.88 L178.96 357.89 L179.47 358.24 L179.98 357.53 L180.49 357.28 L181.00 357.56 L181.51 356.57 L182.01 356.52 L182.52 355.84 L183.03 355.23 L183.54 355.51 L184.05 355.20 L184.56 354.40 L185.06 355.88 L185.57 354.10 L186.08 354.40 L186.59 353.61 L187.10 353.83 L187.60 353.73 L188.11 351.77 L188.62 351.84 L189.13 351.70 L189.64 351.38 L190.15 351.32 L190.65 350.90 L191.16 351.39 L191.67 350.37 L192.18 349.92 L192.69 349.88 L193.19 350.89 L193.70 347.98 L194.21 348.72 L194.72 348.03 L195.23 349.10 L195.74 349.66 L196.24 347.76 L196.75 348.19 L197.26 347.02 L197.77 348.02 L198.28 348.14 L198.78 345.81 L199.29 346.03 L199.80 346.72 L200.31 347.32 L200.82 345.51 L201.33 344.06 L201.83 344.61 L202.34 343.67 L202.85 344.09 L203.36 344.41 L203.87 342.95 L204.37 345.10 L204.88 343.53 L205.39 342.11 L205.90 343.08 L206.41 342.74 L206.92 342.34 L207.42 341.48 L207.93 340.52 L208.44 340.82 L208.95 340.51 L209.46 339.86 L209.97 339.56 L210.47 340.24 L210.98 339.51 L211.49 339.95 L212.00 337.77 L212.51 339.60 L213.01 338.38 L213.52 338.29 L214.03 337.91 L214.54 337.62 L215.05 337.69 L215.56 338.36 L216.06 337.58 L216.57 338.76 L217.08 337.28 L217.59 336.07 L218.10 335.57 L218.60 335.64 L219.11 335.49 L219.62 335.27 L220.13 336.04 L220.64 333.90 L221.15 334.12 L221.65 333.76 L222.16 334.49 L222.67 333.40 L223.18 333.58 L223.69 333.50 L224.19 331.20 L224.70 332.09 L225.21 332.33 L225.72 332.93 L226.23 330.63 L226.74 331.67 L227.24 331.35 L227.75 330.77 L228.26 330.74 L228.77 330.52 L229.28 328.94 L229.78 328.23 L230.29 329.04 L230.80 328.99 L231.31 328.24 L231.82 328.29 L232.33 327.96 L232.83 327.81 L233.34 326.42 L233.85 326.83 L234.36 327.31 L234.87 326.34 L235.38 325.60 L235.88 325.91 L236.39 325.16 L236.90 324.84 L237.41 325.13 L237.92 324.46 L238.42 323.74 L238.93 324.36 L239.44 323.74 L239.95 323.59 L240.46 323.34 L240.97 322.84 L241.47 322.35 L241.98 322.15 L242.49 321.56 L243.00 321.46 L243.51 321.38 L244.01 320.81 L244.52 320.70 L245.03 320.63 L245.54 319.89 L246.05 319.93 L246.56 319.41 L247.06 319.12 L247.57 318.94 L248.08 318.49 L248.59 318.32 L249.10 317.88 L249.60 317.65 L250.11 317.33 L250.62 316.98 L251.13 316.72 L251.64 316.45 L252.15 316.13 L252.65 315.82 L253.16 315.52 L253.67 315.22 L254.18 314.91 L254.69 314.61 L255.19 314.31 L255.70 314.01 L256.21 313.70 L256.72 313.40 L257.23 313.10 L257.74 312.79 L258.24 312.49 L258.75 312.19 L259.26 311.88 L259.77 311.58 L260.28 311.28 L260.79 310.97 L261.29 310.67 L261.80 310.36 L262.31 310.06 L262.82 309.75 L263.33 309.45 L263.83 309.15 L264.34 308.84 L264.85 308.53 L265.36 308.23 L265.87 307.92 L266.38 307.62 L266.88 307.31 L267.39 307.01 L267.90 306.70 L268.41 306.39 L268.92 306.09 L269.42 305.78 L269.93 305.47 L270.44 305.17 L270.95 304.86 L271.46 304.56 L271.97 304.25 L272.47 303.95 L272.98 303.64 L273.49 303.33 L274.00 303.03 L274.51 302.72 L275.01 302.41 L275.52 302.11 L276.03 301.80 L276.54 301.49 L277.05 301.19 L277.56 300.88 L278.06 300.57 L278.57 300.26 L279.08 299.96 L279.59 299.65 L280.10 299.34 L280.60 299.03 L281.11 298.72 L281.62 298.41 L282.13 298.11 L282.64 297.80 L283.15 297.49 L283.65 297.18 L284.16 296.87 L284.67 296.56 L285.18 296.25 L285.69 295.94 L286.20 295.63 L286.70 295.32 L287.21 295.01 L287.72 294.70 L288.23 294.39 L288.74 294.08 L289.24 293.77 L289.75 293.46 L290.26 293.15 L290.77 292.84 L291.28 292.53 L291.79 292.21 L292.29 291.90 L292.80 291.59 L293.31 291.28 L293.82 290.97 L294.33 290.66 L294.83 290.34 L295.34 290.03 L295.85 289.72 L296.36 289.41 L296.87 289.09 L297.38 288.78 L297.88 288.47 L298.39 288.16 L298.90 287.84 L299.41 287.53 L299.92 287.21 L300.42 286.90 L300.93 286.59 L301.44 286.27 L301.95 285.96 L302.46 285.65 L302.97 285.33 L303.47 285.02 L303.98 284.70 L304.49 284.39 L305.00 284.07 L305.51 283.76 L306.01 283.44 L306.52 283.13 L307.03 282.81 L307.54 282.50 L308.05 282.18 L308.56 281.86 L309.06 281.55 L309.57 281.23 L310.08 280.91 L310.59 280.60 L311.10 280.28 L311.61 279.96 L312.11 279.65 L312.62 279.33 L313.13 279.01 L313.64 278.70 L314.15 278.38 L314.65 278.06 L315.16 277.74 L315.67 277.43 L316.18 277.11 L316.69 276.79 L317.20 276.47 L317.70 276.15 L318.21 275.83 L318.72 275.52 L319.23 275.20 L319.74 274.88 L320.24 274.56 L320.75 274.24 L321.26 273.92 L321.77 273.60 L322.28 273.28 L322.79 272.96 L323.29 272.64 L323.80 272.32" stroke="#008000" stroke-width="1.4"/>
<path d="M44.80 427.00 L45.31 426.80 L45.82 426.60 L46.32 426.40 L46.83 426.20 L47.34 426.00 L47.85 425.73 L48.36 425.57 L48.87 425.52 L49.37 425.21 L49.88 425.01 L50.39 424.93 L50.90 424.93 L51.41 424.44 L51.91 424.45 L52.42 424.32 L52.93 423.71 L53.44 423.38 L53.95 423.30 L54.46 423.40 L54.96 422.82 L55.47 422.97 L55.98 422.41 L56.49 422.26 L57.00 422.12 L57.51 422.01 L58.01 421.56 L58.52 421.42 L59.03 421.14 L59.54 421.00 L60.05 421.15 L60.55 420.82 L61.06 420.50 L61.57 420.62 L62.08 420.26 L62.59 419.87 L63.10 419.87 L63.60 419.60 L64.11 419.60 L64.62 419.39 L65.13 419.11 L65.64 418.65 L66.14 418.66 L66.65 418.54 L67.16 417.76 L67.67 417.63 L68.18 418.15 L68.69 417.55 L69.19 417.40 L69.70 417.14 L70.21 417.11 L70.72 416.89 L71.23 416.74 L71.73 416.52 L72.24 416.47 L72.75 416.41 L73.26 415.60 L73.77 415.73 L74.28 415.44 L74.78 415.04 L75.29 415.69 L75.80 414.58 L76.31 413.90 L76.82 414.60 L77.32 413.91 L77.83 413.62 L78.34 413.44 L78.85 413.73 L79.36 413.49 L79.87 413.31 L80.37 413.10 L80.88 413.65 L81.39 412.47 L81.90 412.07 L82.41 411.73 L82.91 411.68 L83.42 412.14 L83.93 411.74 L84.44 411.53 L84.95 411.51 L85.46 410.89 L85.96 410.28 L86.47 410.95 L86.98 410.36 L87.49 410.22 L88.00 410.43 L88.51 409.71 L89.01 408.76 L89.52 409.61 L90.03 409.19 L90.54 409.80 L91.05 408.15 L91.55 408.84 L92.06 408.10 L92.57 407.52 L93.08 407.24 L93.59 407.60 L94.10 407.67 L94.60 407.80 L95.11 407.65 L95.62 406.85 L96.13 406.26 L96.64 405.94 L97.14 405.95 L97.65 406.41 L98.16 404.84 L98.67 404.98 L99.18 405.88 L99.69 405.11 L100.19 405.24 L100.70 405.02 L101.21 404.34 L101.72 403.93 L102.23 404.41 L102.73 403.67 L103.24 403.68 L103.75 402.73 L104.26 403.77 L104.77 403.10 L105.28 403.19 L105.78 403.48 L106.29 402.04 L106.80 402.24 L107.31 402.15 L107.82 402.21 L108.32 402.05 L108.83 401.96 L109.34 402.21 L109.85 401.63 L110.36 400.54 L110.87 400.96 L111.37 401.37 L111.88 400.98 L112.39 400.81 L112.90 400.13 L113.41 399.99 L113.92 399.58 L114.42 398.70 L114.93 399.59 L115.44 398.94 L115.95 398.59 L116.46 397.69 L116.96 398.43 L117.47 398.31 L117.98 399.16 L118.49 398.61 L119.00 397.01 L119.51 398.09 L120.01 396.66 L120.52 396.78 L121.03 396.85 L121.54 396.84 L122.05 397.33 L122.55 396.50 L123.06 396.62 L123.57 396.13 L124.08 396.35 L124.59 395.67 L125.10 395.24 L125.60 395.00 L126.11 394.78 L126.62 393.59 L127.13 394.06 L127.64 394.21 L128.14 394.29 L128.65 394.81 L129.16 393.43 L129.67 394.33 L130.18 393.50 L130.69 392.94 L131.19 393.75 L131.70 392.26 L132.21 393.21 L132.72 392.13 L133.23 391.92 L133.73 392.23 L134.24 392.03 L134.75 391.24 L135.26 390.68 L135.77 391.51 L136.28 390.69 L136.78 391.23 L137.29 391.36 L137.80 389.72 L138.31 389.62 L138.82 389.34 L139.33 389.59 L139.83 388.29 L140.34 390.01 L140.85 388.86 L141.36 388.99 L141.87 388.59 L142.37 388.63 L142.88 388.21 L143.39 386.85 L143.90 387.70 L144.41 387.26 L144.92 387.01 L145.42 387.57 L145.93 386.36 L146.44 387.23 L146.95 386.16 L147.46 386.17 L147.96 385.88 L148.47 386.58 L148.98 386.21 L149.49 386.01 L150.00 384.65 L150.51 384.85 L151.01 385.63 L151.52 384.75 L152.03 385.11 L152.54 384.55 L153.05 384.01 L153.55 384.12 L154.06 383.10 L154.57 383.60 L155.08 382.99 L155.59 383.63 L156.10 383.47 L156.60 383.09 L157.11 382.64 L157.62 382.97 L158.13 381.56 L158.64 382.78 L159.14 381.63 L159.65 382.16 L160.16 381.87 L160.67 380.82 L161.18 381.12 L161.69 381.01 L162.19 380.48 L162.70 380.08 L163.21 380.20 L163.72 379.58 L164.23 379.75 L164.74 379.23 L165.24 379.17 L165.75 379.01 L166.26 379.00 L166.77 378.10 L167.28 378.49 L167.78 378.86 L168.29 378.12 L168.80 378.31 L169.31 378.01 L169.82 377.82 L170.33 377.09 L170.83 377.31 L171.34 377.17 L171.85 376.87 L172.36 376.79 L172.87 376.07 L173.37 376.07 L173.88 375.85 L174.39 375.98 L174.90 375.46 L175.41 375.28 L175.92 375.48 L176.42 375.15 L176.93 374.89 L177.44 374.59 L177.95 374.26 L178.46 374.21 L178.96 373.78 L179.47 373.77 L179.98 373.67 L180.49 373.30 L181.00 373.11 L181.51 372.94 L182.01 372.77 L182.52 372.52 L183.03 372.32 L183.54 372.12 L184.05 371.89 L184.56 371.66 L185.06 371.44 L185.57 371.21 L186.08 370.98 L186.59 370.75 L187.10 370.53 L187.60 370.30 L188.11 370.07 L188.62 369.84 L189.13 369.61 L189.64 369.38 L190.15 369.16 L190.65 368.93 L191.16 368.70 L191.67 368.47 L192.18 368.24 L192.69 368.01 L193.19 367.78 L193.70 367.55 L194.21 367.32 L194.72 367.09 L195.23 366.85 L195.74 366.62 L196.24 366.39 L196.75 366.16 L197.26 365.93 L197.77 365.70 L198.28 365.47 L198.78 365.23 L199.29 365.00 L199.80 364.77 L200.31 364.54 L200.82 364.30 L201.33 364.07 L201.83 363.84 L202.34 363.60 L202.85 363.37 L203.36 363.14 L203.87 362.90 L204.37 362.67 L204.88 362.43 L205.39 362.20 L205.90 361.96 L206.41 361.73 L206.92 361.49 L207.42 361.26 L207.93 361.02 L208.44 360.79 L208.95 360.55 L209.46 360.31 L209.97 360.08 L210.47 359.84 L210.98 359.60 L211.49 359.37 L212.00 359.13 L212.51 358.89 L213.01 358.66 L213.52 358.42 L214.03 358.18 L214.54 357.94 L215.05 357.70 L215.56 357.46 L216.06 357.23 L216.57 356.99 L217.08 356.75 L217.59 356.51 L218.10 356.27 L218.60 356.03 L219.11 355.79 L219.62 355.55 L220.13 355.31 L220.64 355.07 L221.15 354.83 L221.65 354.59 L222.16 354.34 L222.67 354.10 L223.18 353.86 L223.69 353.62 L224.19 353.38 L224.70 353.13 L225.21 352.89 L225.72 352.65 L226.23 352.40 L226.74 352.16 L227.24 351.92 L227.75 351.67 L228.26 351.43 L228.77 351.19 L229.28 350.94 L229.78 350.70 L230.29 350.45 L230.80 350.21 L231.31 349.96 L231.82 349.72 L232.33 349.47 L232.83 349.23 L233.34 348.98 L233.85 348.73 L234.36 348.49 L234.87 348.24 L235.38 347.99 L235.88 347.75 L236.39 347.50 L236.90 347.25 L237.41 347.01 L237.92 346.76 L238.42 346.51 L238.93 346.26 L239.44 346.01 L239.95 345.77 L240.46 345.52 L240.97 345.27 L241.47 345.02 L241.98 344.77 L242.49 344.52 L243.00 344.27 L243.51 344.02 L244.01 343.77 L244.52 343.52 L245.03 343.27 L245.54 343.02 L246.05 342.77 L246.56 342.52 L247.06 342.27 L247.57 342.02 L248.08 341.77 L248.59 341.51 L249.10 341.26 L249.60 341.01 L250.11 340.76 L250.62 340.51 L251.13 340.25 L251.64 340.00 L252.15 339.75 L252.65 339.49 L253.16 339.24 L253.67 338.99 L254.18 338.73 L254.69 338.48 L255.19 338.22 L255.70 337.97 L256.21 337.72 L256.72 337.46 L257.23 337.21 L257.74 336.95 L258.24 336.70 L258.75 336.44 L259.26 336.18 L259.77 335.93 L260.28 335.67 L260.79 335.42 L261.29 335.16 L261.80 334.90 L262.31 334.65 L262.82 334.39 L263.33 334.13 L263.83 333.87 L264.34 333.62 L264.85 333.36 L265.36 333.10 L265.87 332.84 L266.38 332.58 L266.88 332.33 L267.39 332.07 L267.90 331.81 L268.41 331.55 L268.92 331.29 L269.42 331.03 L269.93 330.77 L270.44 330.51 L270.95 330.26 L271.46 330.00 L271.97 329.74 L272.47 329.48 L272.98 329.22 L273.49 328.96 L274.00 328.70 L274.51 328.44 L275.01 328.18 L275.52 327.92 L276.03 327.66 L276.54 327.40 L277.05 327.14 L277.56 326.88 L278.06 326.62 L278.57 326.36 L279.08 326.10 L279.59 325.84 L280.10 325.58 L280.60 325.31 L281.11 325.05 L281.62 324.79 L282.13 324.53 L282.64 324.27 L283.15 324.00 L283.65 323.74 L284.16 323.48 L284.67 323.21 L285.18 322.95 L285.69 322.69 L286.20 322.42 L286.70 322.16 L287.21 321.89 L287.72 321.63 L288.23 321.37 L288.74 321.10 L289.24 320.84 L289.75 320.57 L290.26 320.31 L290.77 320.04 L291.28 319.78 L291.79 319.51 L292.29 319.24 L292.80 318.98 L293.31 318.71 L293.82 318.44 L294.33 318.18 L294.83 317.91 L295.34 317.64 L295.85 317.38 L296.36 317.11 L296.87 316.84 L297.38 316.57 L297.88 316.31 L298.39 316.04 L298.90 315.77 L299.41 315.50 L299.92 315.23 L300.42 314.96 L300.93 314.69 L301.44 314.43 L301.95 314.16 L302.46 313.89 L302.97 313.62 L303.47 313.35 L303.98 313.08 L304.49 312.81 L305.00 312.54 L305.51 312.26 L306.01 311.99 L306.52 311.72 L307.03 311.45 L307.54 311.18 L308.05 310.91 L308.56 310.64 L309.06 310.36 L309.57 310.09 L310.08 309.82 L310.59 309.55 L311.10 309.27 L311.61 309.00 L312.11 308.73 L312.62 308.46 L313.13 308.18 L313.64 307.91 L314.15 307.63 L314.65 307.36 L315.16 307.09 L315.67 306.81 L316.18 306.54 L316.69 306.26 L317.20 305.99 L317.70 305.71 L318.21 305.44 L318.72 305.16 L319.23 304.89 L319.74 304.61 L320.24 304.33 L320.75 304.06 L321.26 303.78 L321.77 303.50 L322.28 303.23 L322.79 302.95 L323.29 302.67 L323.80 302.40" stroke="#0000ff" stroke-width="1.5"/>
<line x1="44.80" y1="427.00" x2="299.82" y2="243.54" stroke="#ff3030" stroke-width="0.7" stroke-dasharray="1 1.8" opacity="0.6"/>
<line x1="44.80" y1="427.50" x2="231.45" y2="304.95" stroke="#ff0000" stroke-width="0.9" stroke-dasharray="3.2 2.2"/>
<line x1="44.80" y1="427.50" x2="257.32" y2="246.79" stroke="#ff0000" stroke-width="0.9" stroke-dasharray="3.2 2.2"/>
<line x1="44.80" y1="427.50" x2="258.24" y2="253.74" stroke="#ff0000" stroke-width="0.9" stroke-dasharray="3.2 2.2"/>
<line x1="44.80" y1="427.50" x2="274.41" y2="310.88" stroke="#ff0000" stroke-width="0.9" stroke-dasharray="3.2 2.2"/>
<line x1="44.80" y1="427.50" x2="265.41" y2="340.83" stroke="#ff0000" stroke-width="0.9" stroke-dasharray="3.2 2.2"/>
</g>
<line x1="160.40" y1="354.60" x2="160.40" y2="362.60" stroke="#000" stroke-width="0.9"/>
<path d="M160.40 351.80 L158.55 357.20 L162.25 357.20 Z" fill="#000"/>
<line x1="174.60" y1="379.20" x2="174.60" y2="387.50" stroke="#000" stroke-width="0.9"/>
<path d="M174.60 376.40 L172.75 381.80 L176.45 381.80 Z" fill="#000"/>
<line x1="192.50" y1="354.40" x2="192.50" y2="363.40" stroke="#000" stroke-width="0.9"/>
<path d="M192.50 351.60 L190.65 357.00 L194.35 357.00 Z" fill="#000"/>
<line x1="206.20" y1="295.00" x2="206.20" y2="303.40" stroke="#000" stroke-width="0.9"/>
<path d="M206.20 292.20 L204.35 297.60 L208.05 297.60 Z" fill="#000"/>
<line x1="221.60" y1="286.60" x2="221.60" y2="295.00" stroke="#000" stroke-width="0.9"/>
<path d="M221.60 283.80 L219.75 289.20 L223.45 289.20 Z" fill="#000"/>
<line x1="237.60" y1="292.80" x2="237.60" y2="302.00" stroke="#000" stroke-width="0.9"/>
<path d="M237.60 290.00 L235.75 295.40 L239.45 295.40 Z" fill="#000"/>
<rect x="44.80" y="222.60" width="277.30" height="204.60" fill="none" stroke="#000" stroke-width="1.45"/>
<path d="M44.80 427.00 v-4.5 M44.80 222.60 v4.5 M67.90 427.00 v-2.8 M67.90 222.60 v2.8 M91.00 427.00 v-4.5 M91.00 222.60 v4.5 M114.10 427.00 v-2.8 M114.10 222.60 v2.8 M137.20 427.00 v-4.5 M137.20 222.60 v4.5 M160.30 427.00 v-2.8 M160.30 222.60 v2.8 M183.40 427.00 v-4.5 M183.40 222.60 v4.5 M206.50 427.00 v-2.8 M206.50 222.60 v2.8 M229.60 427.00 v-4.5 M229.60 222.60 v4.5 M252.70 427.00 v-2.8 M252.70 222.60 v2.8 M275.80 427.00 v-4.5 M275.80 222.60 v4.5 M298.90 427.00 v-2.8 M298.90 222.60 v2.8 M322.00 427.00 v-4.5 M322.00 222.60 v4.5 M44.80 427.00 h4.5 M44.80 386.12 h2.8 M44.80 345.24 h4.5 M44.80 304.36 h2.8 M44.80 263.48 h4.5 M44.80 222.60 h2.8" stroke="#000" stroke-width="1.2" fill="none"/>
<text transform="translate(44.80,441.2) scale(0.955,1)" font-size="11.9" text-anchor="middle" fill="#000" stroke="#000" stroke-width="0.2">0</text>
<text transform="translate(91.00,441.2) scale(0.955,1)" font-size="11.9" text-anchor="middle" fill="#000" stroke="#000" stroke-width="0.2">100</text>
<text transform="translate(137.20,441.2) scale(0.955,1)" font-size="11.9" text-anchor="middle" fill="#000" stroke="#000" stroke-width="0.2">200</text>
<text transform="translate(183.40,441.2) scale(0.955,1)" font-size="11.9" text-anchor="middle" fill="#000" stroke="#000" stroke-width="0.2">300</text>
<text transform="translate(229.60,441.2) scale(0.955,1)" font-size="11.9" text-anchor="middle" fill="#000" stroke="#000" stroke-width="0.2">400</text>
<text transform="translate(275.80,441.2) scale(0.955,1)" font-size="11.9" text-anchor="middle" fill="#000" stroke="#000" stroke-width="0.2">500</text>
<text transform="translate(322.00,441.2) scale(0.955,1)" font-size="11.9" text-anchor="middle" fill="#000" stroke="#000" stroke-width="0.2">600</text>
<text transform="translate(40.2,431.20) scale(0.965,1)" font-size="11.9" text-anchor="end" fill="#000" stroke="#000" stroke-width="0.2">0.0</text>
<text transform="translate(40.2,349.44) scale(0.965,1)" font-size="11.9" text-anchor="end" fill="#000" stroke="#000" stroke-width="0.2">0.2</text>
<text transform="translate(40.2,267.68) scale(0.965,1)" font-size="11.9" text-anchor="end" fill="#000" stroke="#000" stroke-width="0.2">0.4</text>
<text transform="translate(154.4,458.0) scale(1.045,1)" font-size="14" fill="#000" stroke="#000" stroke-width="0.2">( T(K) )<tspan font-size="8.5" dy="-5.5">5/3</tspan></text>
<text transform="translate(15.0,375.8) rotate(-90) scale(1.013,0.93)" font-size="14" fill="#000" stroke="#000" stroke-width="0.25">ρ - ρ<tspan font-size="9" dy="3">0</tspan><tspan dy="-3"> (μΩ.cm)</tspan></text>
<line x1="244" y1="356.30" x2="266.7" y2="356.30" stroke="#0000ff" stroke-width="1.5"/>
<text x="269.7" y="360.20" font-size="10.1" fill="#0000ff" stroke="#0000ff" stroke-width="0.15">29.2 GPa</text>
<line x1="244" y1="368.56" x2="266.7" y2="368.56" stroke="#008000" stroke-width="1.2"/>
<text x="269.7" y="372.46" font-size="10.1" fill="#008000" stroke="#008000" stroke-width="0.15">26.9 GPa</text>
<line x1="244" y1="380.82" x2="266.7" y2="380.82" stroke="#000000" stroke-width="1.2"/>
<text x="269.7" y="384.72" font-size="10.1" fill="#000000" stroke="#000000" stroke-width="0.15">21.8 GPa</text>
<line x1="244" y1="393.08" x2="266.7" y2="393.08" stroke="#ff00ff" stroke-width="1.3"/>
<text x="269.7" y="396.98" font-size="10.1" fill="#ff00ff" stroke="#ff00ff" stroke-width="0.15">19.2 GPa</text>
<line x1="244" y1="405.34" x2="266.7" y2="405.34" stroke="#808000" stroke-width="1.2"/>
<text x="269.7" y="409.24" font-size="10.1" fill="#808000" stroke="#808000" stroke-width="0.15">17.3 GPa</text>
<line x1="244" y1="417.60" x2="266.7" y2="417.60" stroke="#008080" stroke-width="1.2"/>
<text x="269.7" y="421.50" font-size="10.1" fill="#008080" stroke="#008080" stroke-width="0.15">15.4 GPa</text>
<rect x="67.9" y="231.4" width="97.90" height="80.30" fill="#fff" stroke="#333" stroke-width="0.7"/>
<path d="M78.80 311.70 v-2.2 M78.80 231.40 v2.2 M89.66 311.70 v-1.3 M89.66 231.40 v1.3 M100.52 311.70 v-2.2 M100.52 231.40 v2.2 M111.38 311.70 v-1.3 M111.38 231.40 v1.3 M122.24 311.70 v-2.2 M122.24 231.40 v2.2 M133.10 311.70 v-1.3 M133.10 231.40 v1.3 M143.96 311.70 v-2.2 M143.96 231.40 v2.2 M154.82 311.70 v-1.3 M154.82 231.40 v1.3 M67.90 306.00 h1.3 M165.80 306.00 h-1.3 M67.90 294.44 h2.2 M165.80 294.44 h-2.2 M67.90 282.88 h1.3 M165.80 282.88 h-1.3 M67.90 271.32 h2.2 M165.80 271.32 h-2.2 M67.90 259.76 h1.3 M165.80 259.76 h-1.3 M67.90 248.20 h2.2 M165.80 248.20 h-2.2 M67.90 236.64 h1.3 M165.80 236.64 h-1.3" stroke="#333" stroke-width="0.7" fill="none"/>
<text transform="translate(78.80,319.4) scale(0.74,1)" font-size="7.5" stroke="#000" stroke-width="0.2" text-anchor="middle" fill="#000">16</text>
<text transform="translate(100.52,319.4) scale(0.74,1)" font-size="7.5" stroke="#000" stroke-width="0.2" text-anchor="middle" fill="#000">20</text>
<text transform="translate(122.24,319.4) scale(0.74,1)" font-size="7.5" stroke="#000" stroke-width="0.2" text-anchor="middle" fill="#000">24</text>
<text transform="translate(143.96,319.4) scale(0.74,1)" font-size="7.5" stroke="#000" stroke-width="0.2" text-anchor="middle" fill="#000">28</text>
<text transform="translate(165.68,319.4) scale(0.74,1)" font-size="7.5" stroke="#000" stroke-width="0.2" text-anchor="middle" fill="#000">32</text>
<text transform="translate(65.6,297.54) scale(0.69,1)" font-size="8.4" stroke="#000" stroke-width="0.2" text-anchor="end" fill="#000">28</text>
<text transform="translate(65.6,274.42) scale(0.69,1)" font-size="8.4" stroke="#000" stroke-width="0.2" text-anchor="end" fill="#000">32</text>
<text transform="translate(65.6,251.30) scale(0.69,1)" font-size="8.4" stroke="#000" stroke-width="0.2" text-anchor="end" fill="#000">36</text>
<text transform="translate(117.6,328.9) scale(0.86,1)" font-size="7" stroke="#000" stroke-width="0.15" text-anchor="middle" fill="#000">P (GPa)</text>
<text transform="translate(56.9,270.9) rotate(-90)" font-size="7.4" stroke="#000" stroke-width="0.15" text-anchor="middle" fill="#000">T*(K)</text>
<path d="M73.20 306.50 C73.55 305.07 74.43 301.07 75.30 297.90 C76.17 294.73 77.30 290.83 78.40 287.50 C79.50 284.17 80.75 280.65 81.90 277.90 C83.05 275.15 84.15 273.17 85.30 271.00 C86.45 268.83 87.63 267.07 88.80 264.90 C89.97 262.73 91.00 260.25 92.30 258.00 C93.60 255.75 95.17 253.42 96.60 251.40 C98.03 249.38 99.37 247.55 100.90 245.90 C102.43 244.25 104.58 242.50 105.80 241.50 C107.02 240.50 107.42 239.98 108.20 239.90 C108.98 239.82 109.40 240.00 110.50 241.00 C111.60 242.00 113.45 244.17 114.80 245.90 C116.15 247.63 117.22 249.82 118.60 251.40 C119.98 252.98 121.42 253.85 123.10 255.40 C124.78 256.95 126.13 257.77 128.70 260.70 C131.27 263.63 135.52 269.85 138.50 273.00 C141.48 276.15 144.50 277.67 146.60 279.60 C148.70 281.53 149.18 282.50 151.10 284.60 C153.02 286.70 156.52 290.58 158.10 292.20 C159.68 293.82 160.18 293.95 160.60 294.30" fill="none" stroke="#ff0000" stroke-width="1.0" stroke-dasharray="2 1.8"/>
<path d="M75.30 291.90 V303.90 M74.40 291.90 h1.8 M74.40 303.90 h1.8" stroke="#111" stroke-width="0.65" fill="none"/>
<circle cx="75.30" cy="297.90" r="1.95" fill="#000"/>
<path d="M85.90 257.20 V269.20 M85.00 257.20 h1.8 M85.00 269.20 h1.8" stroke="#111" stroke-width="0.65" fill="none"/>
<circle cx="85.90" cy="263.20" r="1.95" fill="#000"/>
<path d="M96.60 245.40 V257.40 M95.70 245.40 h1.8 M95.70 257.40 h1.8" stroke="#111" stroke-width="0.65" fill="none"/>
<circle cx="96.60" cy="251.40" r="1.95" fill="#000"/>
<path d="M105.80 235.50 V247.50 M104.90 235.50 h1.8 M104.90 247.50 h1.8" stroke="#111" stroke-width="0.65" fill="none"/>
<circle cx="105.80" cy="241.50" r="1.95" fill="#000"/>
<path d="M110.50 235.00 V247.00 M109.60 235.00 h1.8 M109.60 247.00 h1.8" stroke="#111" stroke-width="0.65" fill="none"/>
<circle cx="110.50" cy="241.00" r="1.95" fill="#000"/>
<path d="M118.60 245.40 V257.40 M117.70 245.40 h1.8 M117.70 257.40 h1.8" stroke="#111" stroke-width="0.65" fill="none"/>
<circle cx="118.60" cy="251.40" r="1.95" fill="#000"/>
<path d="M128.70 250.90 V262.90 M127.80 250.90 h1.8 M127.80 262.90 h1.8" stroke="#111" stroke-width="0.65" fill="none"/>
<circle cx="128.70" cy="256.90" r="1.95" fill="#000"/>
<path d="M138.50 267.00 V279.00 M137.60 267.00 h1.8 M137.60 279.00 h1.8" stroke="#111" stroke-width="0.65" fill="none"/>
<circle cx="138.50" cy="273.00" r="1.95" fill="#000"/>
<path d="M146.60 273.30 V285.30 M145.70 273.30 h1.8 M145.70 285.30 h1.8" stroke="#111" stroke-width="0.65" fill="none"/>
<circle cx="146.60" cy="279.30" r="1.95" fill="#000"/>
<path d="M151.10 281.30 V293.30 M150.20 281.30 h1.8 M150.20 293.30 h1.8" stroke="#111" stroke-width="0.65" fill="none"/>
<circle cx="151.10" cy="287.30" r="1.95" fill="#000"/>
<path d="M158.10 284.50 V296.50 M157.20 284.50 h1.8 M157.20 296.50 h1.8" stroke="#111" stroke-width="0.65" fill="none"/>
<circle cx="158.10" cy="290.50" r="1.95" fill="#000"/>
<path d="M73.20 306.50 C73.55 305.07 74.43 301.07 75.30 297.90 C76.17 294.73 77.30 290.83 78.40 287.50 C79.50 284.17 80.75 280.65 81.90 277.90 C83.05 275.15 84.15 273.17 85.30 271.00 C86.45 268.83 87.63 267.07 88.80 264.90 C89.97 262.73 91.00 260.25 92.30 258.00 C93.60 255.75 95.17 253.42 96.60 251.40 C98.03 249.38 99.37 247.55 100.90 245.90 C102.43 244.25 104.58 242.50 105.80 241.50 C107.02 240.50 107.42 239.98 108.20 239.90 C108.98 239.82 109.40 240.00 110.50 241.00 C111.60 242.00 113.45 244.17 114.80 245.90 C116.15 247.63 117.22 249.82 118.60 251.40 C119.98 252.98 121.42 253.85 123.10 255.40 C124.78 256.95 126.13 257.77 128.70 260.70 C131.27 263.63 135.52 269.85 138.50 273.00 C141.48 276.15 144.50 277.67 146.60 279.60 C148.70 281.53 149.18 282.50 151.10 284.60 C153.02 286.70 156.52 290.58 158.10 292.20 C159.68 293.82 160.18 293.95 160.60 294.30" fill="none" stroke="#ff0000" stroke-width="1.0" stroke-dasharray="2 1.8" opacity="0.4"/>
</svg>
</body></html>
